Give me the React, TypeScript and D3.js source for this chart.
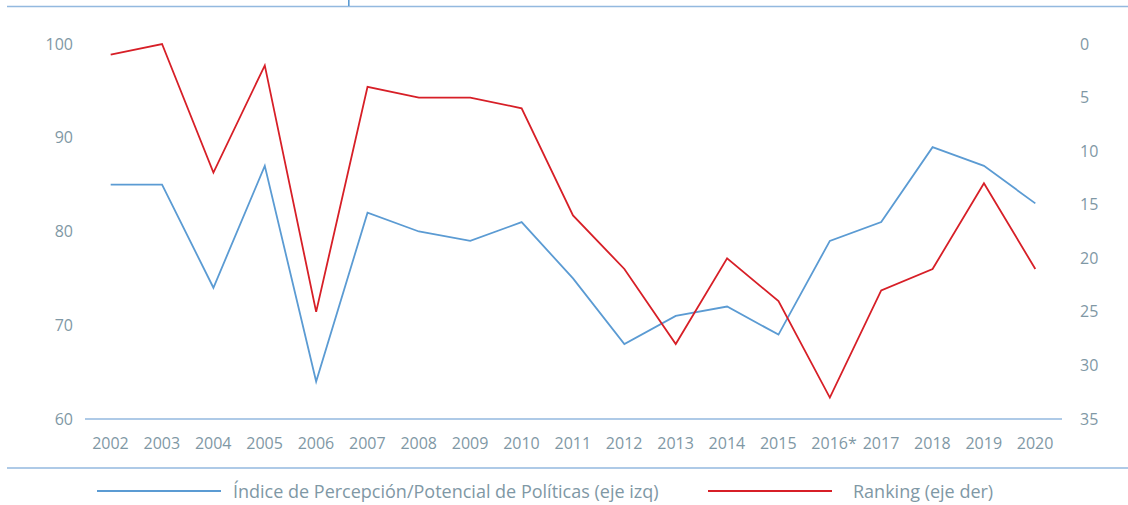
import React from "react";
import * as d3 from "d3";

const years = ["2002","2003","2004","2005","2006","2007","2008","2009","2010","2011","2012","2013","2014","2015","2016*","2017","2018","2019","2020"];
const indice = [85,85,74,87,64,82,80,79,81,75,68,71,72,69,79,81,89,87,83];
const ranking = [1,0,12,2,25,4,5,5,6,16,21,28,20,24,33,23,21,13,21];
const leftTicks = [60,70,80,90,100];
const rightTicks = [0,5,10,15,20,25,30,35];

const W = 1128, H = 505;
const plotLeft = 85, plotRight = 1061, yTop = 44, yBottom = 419;
const BLUE = "#5b9bd3";
const RED = "#d71f27";
const TXT = "#7f98a5";
const RULE = "#93b9df";
const FONT = "'Open Sans', 'Noto Sans', sans-serif";

export default function App() {
  const x = d3.scaleBand<string>().domain(years).range([plotLeft, plotRight]);
  const cx = (d: string) => (x(d) as number) + x.bandwidth() / 2;
  const yL = d3.scaleLinear().domain([60, 100]).range([yBottom, yTop]);
  const yR = d3.scaleLinear().domain([0, 35]).range([yTop, yBottom]);
  const lineL = d3.line<number>().x((_, i) => cx(years[i])).y(d => yL(d));
  const lineR = d3.line<number>().x((_, i) => cx(years[i])).y(d => yR(d));

  return (
    <div style={{ position: "fixed", left: 0, top: 0 }}>
      <svg width={W} height={H} style={{ display: "block", background: "#fff" }}>
        <line x1={7} x2={W} y1={6.5} y2={6.5} stroke={RULE} strokeWidth={1.5} />
        <rect x={348} y={0} width={1.6} height={6} fill={BLUE} />
        <line x1={7} x2={W} y1={468} y2={468} stroke={RULE} strokeWidth={1.5} />
        <line x1={plotLeft} x2={plotRight + 1} y1={yL(60)} y2={yL(60)} stroke={RULE} strokeWidth={1.5} />
        {leftTicks.map(t => (
          <text key={"l" + t} x={73} y={yL(t)} dy="0.35em" textAnchor="end" fontFamily={FONT} fontSize={16} fill={TXT}>{t}</text>
        ))}
        {rightTicks.map(t => (
          <text key={"r" + t} x={1080} y={yR(t)} dy="0.35em" textAnchor="start" fontFamily={FONT} fontSize={16} fill={TXT}>{t}</text>
        ))}
        {years.map(yr => (
          <text key={yr} x={cx(yr) - 18.5} y={443} dy="0.35em" textAnchor="start" fontFamily={FONT} fontSize={16} fill={TXT}>{yr}</text>
        ))}
        <path d={lineL(indice) || ""} fill="none" stroke={BLUE} strokeWidth={1.8} strokeLinejoin="miter" />
        <path d={lineR(ranking) || ""} fill="none" stroke={RED} strokeWidth={1.8} strokeLinejoin="miter" />
        <line x1={97} x2={221} y1={491} y2={491} stroke={BLUE} strokeWidth={2} />
        <text x={233} y={492} dy="0.35em" fontFamily={FONT} fontSize={18} fill={TXT}>Índice de Percepción/Potencial de Políticas (eje izq)</text>
        <line x1={708} x2={832} y1={491} y2={491} stroke={RED} strokeWidth={2} />
        <text x={853} y={492} dy="0.35em" fontFamily={FONT} fontSize={18} fill={TXT}>Ranking (eje der)</text>
      </svg>
    </div>
  );
}
